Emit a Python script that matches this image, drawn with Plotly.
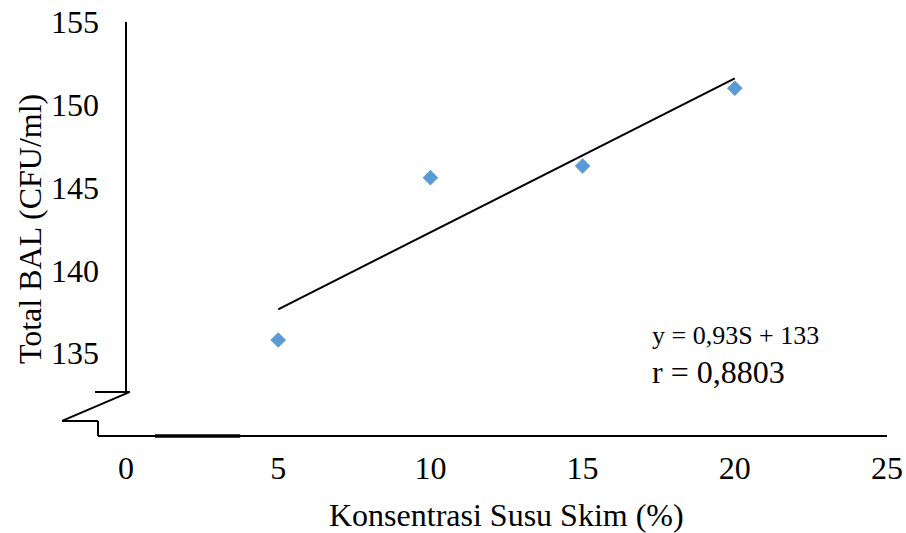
import plotly.graph_objects as go

# Data
konsentrasi = [5, 10, 15, 20]
total_bal = [135.8, 145.6, 146.3, 151.0]
slope, intercept = 0.93, 133
trend_x = [5, 20]
trend_y = [slope * s + intercept for s in trend_x]
x_ticks = [0, 5, 10, 15, 20, 25]
y_ticks = [135, 140, 145, 150, 155]
x_title = "Konsentrasi Susu Skim (%)"
y_title = "Total BAL (CFU/ml)"
eq_text = "y = 0,93S + 133"
r_text = "r = 0,8803"

XR = (0, 25)
YR = (130, 155)
FONT = "Liberation Serif"


def px(v):
    return (v - XR[0]) / (XR[1] - XR[0])


def py(v):
    return (v - YR[0]) / (YR[1] - YR[0])


fig = go.Figure()
fig.add_trace(go.Scatter(x=trend_x, y=trend_y, mode="lines",
                         line=dict(color="black", width=2), showlegend=False,
                         hoverinfo="skip"))
fig.add_trace(go.Scatter(x=konsentrasi, y=total_bal, mode="markers",
                         marker=dict(symbol="diamond", size=12, color="#5B9BD5"),
                         showlegend=False))

line = dict(color="black", width=2)
segs = [
    # y axis (broken)
    ((0, 155), (0, 132.66)),
    ((-1.02, 132.66), (0.13, 132.66)),
    ((0.13, 132.66), (-2.10, 130.91)),
    ((-2.10, 130.91), (-0.92, 130.91)),
    ((-0.92, 130.91), (-0.92, 130)),
    # x axis
    ((-0.92, 130), (25, 130)),
]
shapes = []
for (x0, y0), (x1, y1) in segs:
    shapes.append(dict(type="line", xref="paper", yref="paper",
                       x0=px(x0), y0=py(y0), x1=px(x1), y1=py(y1), line=line))
shapes.append(dict(type="line", xref="paper", yref="paper",
                   x0=px(0.95), y0=py(130), x1=px(3.75), y1=py(130),
                   line=dict(color="black", width=3.5)))

fig.update_layout(
    width=906, height=533,
    margin=dict(l=126, r=19, t=22, b=97),
    plot_bgcolor="white", paper_bgcolor="white",
    font=dict(family=FONT, color="black", size=32),
    shapes=shapes,
    xaxis=dict(range=list(XR), tickvals=x_ticks, showgrid=False, zeroline=False,
               showline=False, ticks="", ticklabelstandoff=10, automargin=False,
               tickfont=dict(family=FONT, size=32, color="black")),
    yaxis=dict(range=list(YR), tickvals=y_ticks, showgrid=False, zeroline=False,
               showline=False, ticks="", ticklabelstandoff=26, automargin=False,
               tickfont=dict(family=FONT, size=32, color="black")),
    annotations=[
        dict(text=x_title, xref="paper", yref="paper", x=0.5, y=-0.19,
             xanchor="center", yanchor="middle", showarrow=False,
             font=dict(family=FONT, size=32)),
        dict(text=y_title, xref="paper", yref="paper", x=-0.126, y=0.5,
             xanchor="center", yanchor="middle", textangle=-90, showarrow=False,
             font=dict(family=FONT, size=32)),
        dict(text=eq_text, xref="x", yref="y", x=17.21, y=136.04,
             xanchor="left", yanchor="middle", showarrow=False,
             font=dict(family=FONT, size=26)),
        dict(text=r_text, xref="x", yref="y", x=17.21, y=133.86,
             xanchor="left", yanchor="middle", showarrow=False,
             font=dict(family=FONT, size=32)),
    ],
)

fig.write_html("out.html")
